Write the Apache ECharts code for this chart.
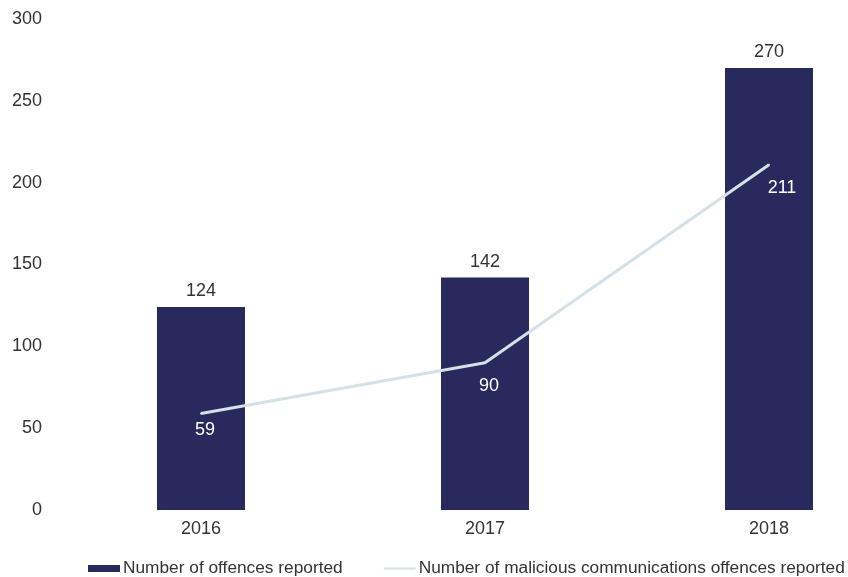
<!DOCTYPE html>
<html>
<head>
<meta charset="utf-8">
<script src="https://cdn.jsdelivr.net/npm/echarts@6/dist/echarts.min.js"></script>
<style>
  html, body { margin: 0; padding: 0; background: #fff; }
  #chart { width: 848px; height: 577px; }
</style>
</head>
<body>
<div id="chart"></div>
<script>
// Offences reported per year
const years = ['2016', '2017', '2018'];
const offencesReported = [124, 142, 270];
const maliciousCommunications = [59, 90, 211];
const yTicks = { min: 0, max: 300, interval: 50 };

// Nudges for the white value labels on the line, one per year
const lineLabelOffsets = [[4, 1], [4, 7], [13, 7]];

const font = '"Liberation Sans", Arial, Helvetica, sans-serif';
const lineColor = '#d5e1e6';
// Thin bar swatch for the line entry in the legend (faint slivers keep the 32x7 box)
const thinLineIcon = 'path://M0,0L32,0L32,0.05L0,0.05Z M0,2.5L32,2.5L32,4.5L0,4.5Z M0,6.95L32,6.95L32,7L0,7Z';

const chart = echarts.init(document.getElementById('chart'), null, { renderer: 'canvas' });

chart.setOption({
  animation: false,
  textStyle: { fontFamily: font },
  grid: { left: 59, top: 19, width: 852, height: 491, containLabel: false, outerBoundsMode: 'none' },
  legend: {
    left: 83,
    top: 555,
    width: 900,
    itemWidth: 32,
    itemHeight: 7,
    itemGap: 41,
    textStyle: { fontFamily: font, fontSize: 17.3, color: '#333', padding: [0, 0, 0, -2] },
    data: [
      { name: 'Number of offences reported', icon: 'rect' },
      { name: 'Number of malicious communications offences reported', icon: thinLineIcon, itemStyle: { color: lineColor } }
    ]
  },
  xAxis: {
    type: 'category',
    data: years,
    axisLine: { show: false },
    axisTick: { show: false },
    axisLabel: { color: '#333', fontSize: 18, margin: 10, fontFamily: font }
  },
  yAxis: {
    type: 'value',
    min: yTicks.min,
    max: yTicks.max,
    interval: yTicks.interval,
    splitLine: { show: false },
    axisLine: { show: false },
    axisTick: { show: false },
    axisLabel: { color: '#333', fontSize: 18, margin: 17, fontFamily: font }
  },
  series: [
    {
      name: 'Number of offences reported',
      type: 'bar',
      data: offencesReported,
      barWidth: 88,
      itemStyle: { color: '#28295c' },
      label: { show: true, position: 'top', distance: 7, color: '#333', fontSize: 18, fontFamily: font }
    },
    {
      name: 'Number of malicious communications offences reported',
      type: 'line',
      data: maliciousCommunications.map((v, i) => ({ value: v, label: { offset: lineLabelOffsets[i] } })),
      symbol: 'circle',
      symbolSize: 2,
      showSymbol: true,
      z: 3,
      lineStyle: { color: lineColor, width: 3 },
      itemStyle: { color: lineColor },
      label: { show: true, position: 'bottom', distance: 6, color: '#ffffff', fontSize: 18, fontFamily: font }
    }
  ]
});
</script>
</body>
</html>
